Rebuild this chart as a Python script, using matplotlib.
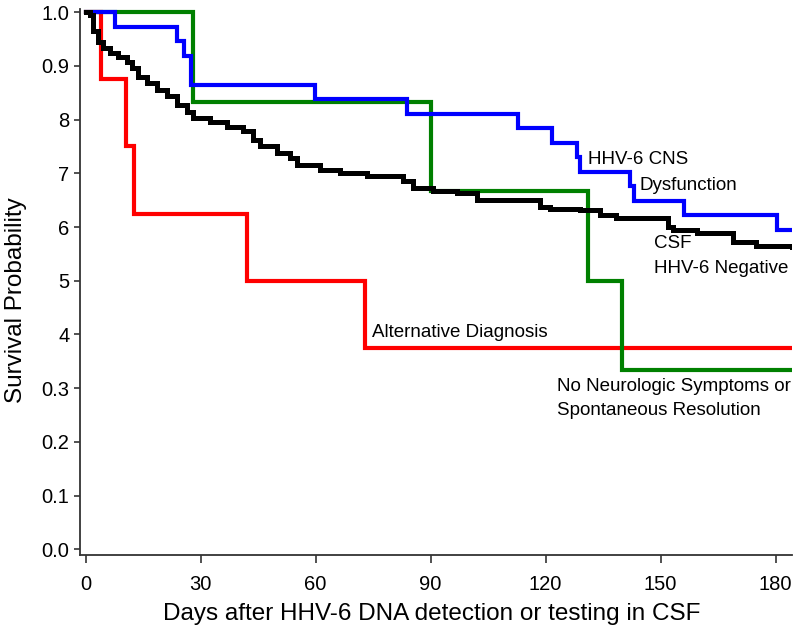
import matplotlib
matplotlib.use("Agg")
import matplotlib.pyplot as plt

plt.rcParams['font.family'] = ['Liberation Sans', 'DejaVu Sans']

# Kaplan-Meier step data (days, survival probability)
t_neg = [0, 1.1, 2, 3.3, 4.6, 6.3, 8.5, 10.7, 12, 13.7, 15.9, 18.5, 21.1, 23.7, 26.4,
         28.1, 32.4, 36.8, 41.1, 43.7, 45.5, 49.8, 53.3, 55, 61.1, 66.3, 73.3, 82.9,
         85.5, 90.7, 96.8, 102, 118.5, 121.1, 129, 134.3, 138.5, 152, 153.3, 159.4,
         169, 175, 184.3]
s_neg = [1.0, 0.995, 0.964, 0.945, 0.933, 0.924, 0.916, 0.908, 0.896, 0.880, 0.868,
         0.855, 0.843, 0.827, 0.815, 0.803, 0.796, 0.787, 0.778, 0.762, 0.750, 0.737,
         0.728, 0.716, 0.706, 0.700, 0.695, 0.685, 0.672, 0.668, 0.663, 0.650, 0.638,
         0.633, 0.632, 0.622, 0.616, 0.601, 0.595, 0.588, 0.573, 0.564, 0.562]

t_cns = [0, 7.6, 23.7, 25.7, 27.5, 59.8, 83.9, 112.9, 121.7, 128.3, 129, 142, 143,
         156, 180.4, 184.3]
s_cns = [1.0, 0.973, 0.946, 0.919, 0.865, 0.838, 0.811, 0.785, 0.757, 0.730, 0.703,
         0.676, 0.649, 0.622, 0.595, 0.595]

t_alt = [0, 4, 10.4, 12.6, 42, 73, 184.3]
s_alt = [1.0, 0.875, 0.75, 0.625, 0.5, 0.375, 0.375]

t_none = [0, 28, 90, 131, 140, 184.3]
s_none = [1.0, 0.833, 0.667, 0.5, 0.333, 0.333]

yticks = [1.0, 0.9, 0.8, 0.7, 0.6, 0.5, 0.4, 0.3, 0.2, 0.1, 0.0]
ytick_labels = ['1.0', '0.9', '8', '7', '6', '5', '4', '0.3', '0.2', '0.1', '0.0']
xticks = [0, 30, 60, 90, 120, 150, 180]

fig = plt.figure(figsize=(8, 6.38), dpi=100)
ax = fig.add_axes([0.1, 0.13, 0.89, 0.856])

ax.step(t_alt, s_alt, where='post', color='#FF0000', lw=3.0, solid_joinstyle='miter')
ax.step(t_none, s_none, where='post', color='#008000', lw=3.0, solid_joinstyle='miter')
ax.step(t_cns, s_cns, where='post', color='#0000FF', lw=3.0, solid_joinstyle='miter')
ax.step(t_neg, s_neg, where='post', color='black', lw=3.6, solid_joinstyle='miter')

fs = 13.5
ax.text(131.0, 0.725, 'HHV-6 CNS', fontsize=fs, ha='left', va='center')
ax.text(144.6, 0.678, 'Dysfunction', fontsize=fs, ha='left', va='center')
ax.text(148.3, 0.570, 'CSF', fontsize=fs, ha='left', va='center')
ax.text(148.3, 0.523, 'HHV-6 Negative', fontsize=fs, ha='left', va='center')
ax.text(74.6, 0.403, 'Alternative Diagnosis', fontsize=fs, ha='left', va='center')
ax.text(122.9, 0.304, 'No Neurologic Symptoms or', fontsize=fs, ha='left', va='center')
ax.text(122.9, 0.258, 'Spontaneous Resolution', fontsize=fs, ha='left', va='center')

ax.set_xlim(-1.5, 184.3)
ax.set_ylim(-0.0106, 1.006)
ax.set_xticks(xticks)
ax.set_yticks(yticks)
ax.set_yticklabels(ytick_labels)
ax.tick_params(axis='both', labelsize=14.5, direction='out', length=4, width=1.2,
               color='#333333')
ax.tick_params(axis='x', length=6, pad=8)
for s in ['top', 'right']:
    ax.spines[s].set_visible(False)
for s in ['left', 'bottom']:
    ax.spines[s].set_color('#333333')
    ax.spines[s].set_linewidth(1.3)

ax.set_xlabel('Days after HHV-6 DNA detection or testing in CSF', fontsize=17.5)
ax.set_ylabel('Survival Probability', fontsize=17.5)
ax.xaxis.label.set_va('center')
ax.yaxis.label.set_va('center')
ax.xaxis.set_label_coords(0.494, -0.108)
ax.yaxis.set_label_coords(-0.09, 0.467)

fig.savefig('out.png', dpi=100)
